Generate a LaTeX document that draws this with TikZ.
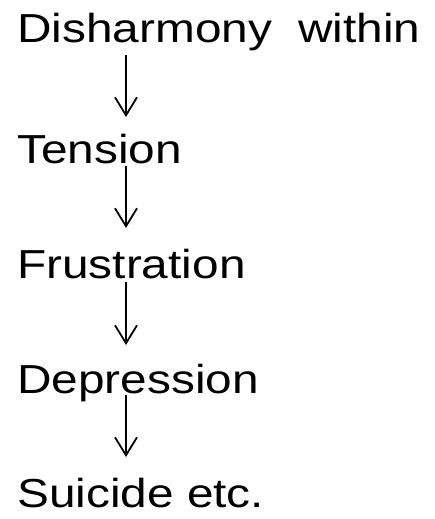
\documentclass[tikz,border=0pt]{standalone}
\usepackage{fontspec}
\setmainfont[FakeStretch=1.18]{Liberation Sans}
\usetikzlibrary{arrows.meta}
\begin{document}
\begin{tikzpicture}[x=1pt,y=1pt,
  lbl/.style={anchor=base west,inner sep=0pt,font=\fontsize{40.5}{44}\selectfont},
  arr/.style={line width=1.8pt,-{Straight Barb[length=18pt,width=22pt,line width=1.8pt]}}]
\useasboundingbox (0,0) rectangle (434,-519);
\node[lbl] (n1) at (17,-43) {Disharmony\hspace{26pt}within};
\node[lbl] (n2) at (17,-163) {Tension};
\node[lbl] (n3) at (17,-278) {Frustration};
\node[lbl] (n4) at (17,-393) {Depression};
\node[lbl] (n5) at (17,-507) {Suicide etc.};
\coordinate (s1) at (126,-55);  \coordinate (e1) at (126,-117);
\coordinate (s2) at (126,-166); \coordinate (e2) at (126,-228);
\coordinate (s3) at (126,-282); \coordinate (e3) at (126,-345);
\coordinate (s4) at (126,-395); \coordinate (e4) at (126,-457);
\draw[arr] (s1) -- (e1);
\draw[arr] (s2) -- (e2);
\draw[arr] (s3) -- (e3);
\draw[arr] (s4) -- (e4);
\end{tikzpicture}
\end{document}
